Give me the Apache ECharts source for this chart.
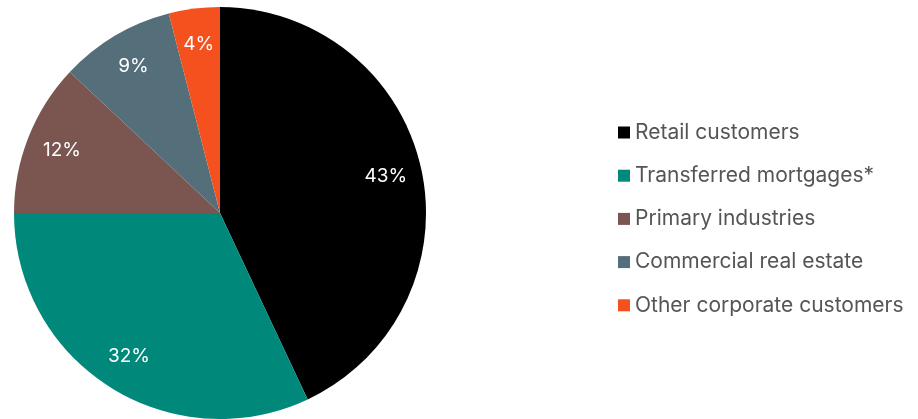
<!DOCTYPE html>
<html>
<head>
<meta charset="utf-8">
<script src="https://cdn.jsdelivr.net/npm/echarts@6/dist/echarts.min.js"></script>
<style>html,body{margin:0;padding:0;background:#fff}#c{width:918px;height:419px}</style>
</head>
<body>
<div id="c"></div>
<script>
const categories = ['Retail customers', 'Transferred mortgages*', 'Primary industries', 'Commercial real estate', 'Other corporate customers'];
const values = [43, 32, 12, 9, 4];
const colors = ['#000000', '#00897b', '#7b5650', '#546e7a', '#f4511e'];

const data = categories.map((n, i) => ({ name: n, value: values[i], itemStyle: { color: colors[i] } }));
const chart = echarts.init(document.getElementById('c'), null, { renderer: 'canvas' });
chart.setOption({
  animation: false,
  legend: {
    orient: 'vertical',
    left: 618,
    top: 122,
    padding: 0,
    icon: 'rect',
    itemWidth: 12,
    itemHeight: 12,
    itemGap: 22.2,
    textStyle: { fontFamily: 'Inter', fontSize: 21, color: '#555555', padding: [0, 0, 0, 0] },
    data: categories
  },
  series: [
    {
      type: 'pie',
      center: [220, 213],
      radius: [0, 206],
      startAngle: 90,
      clockwise: true,
      label: { show: false },
      labelLine: { show: false },
      emphasis: { disabled: true },
      data: data
    },
    {
      type: 'pie',
      center: [220, 213],
      radius: [128, 206],
      startAngle: 90,
      clockwise: true,
      silent: true,
      itemStyle: { color: 'rgba(0,0,0,0)' },
      label: {
        show: true,
        position: 'inside',
        formatter: '{c}%',
        color: '#ffffff',
        fontFamily: 'Inter',
        fontSize: 19
      },
      labelLine: { show: false },
      emphasis: { disabled: true },
      data: categories.map((n, i) => ({ name: n, value: values[i], itemStyle: { color: 'rgba(0,0,0,0)' } }))
    }
  ]
});
</script>
</body>
</html>
